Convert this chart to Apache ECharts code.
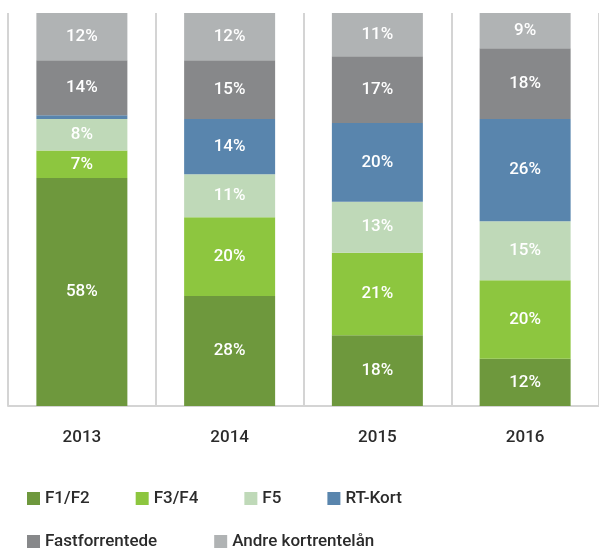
<!DOCTYPE html>
<html>
<head>
<meta charset="utf-8">
<script src="https://cdn.jsdelivr.net/npm/echarts@6/dist/echarts.min.js"></script>
<style>
  html, body { margin: 0; padding: 0; background: #fff; }
  #chart { width: 599px; height: 549px; }
</style>
</head>
<body>
<div id="chart"></div>
<script>
// år
var years = ['2013', '2014', '2015', '2016'];
// andel i prosent per lånetype
var f1f2 = [58, 28, 18, 12];
var f3f4 = [7, 20, 21, 20];
var f5 = [8, 11, 13, 15];
var rtKort = [1, 14, 20, 26];
var fast = [14, 15, 17, 18];
var andre = [12, 12, 11, 9];

var names = ['F1/F2', 'F3/F4', 'F5', 'RT-Kort', 'Fastforrentede', 'Andre kortrentelån'];
var colors = ['#6e983d', '#8dc63f', '#bfd9b8', '#5985ad', '#87888a', '#b0b3b4'];
var values = [f1f2, f3f4, f5, rtKort, fast, andre];

var font = 'Roboto, "Noto Sans", sans-serif';

var series = [];
for (var i = 0; i < names.length; i++) {
  series.push({
    name: names[i],
    type: 'bar',
    stack: 'total',
    barWidth: 91,
    data: values[i],
    itemStyle: { color: colors[i] },
    label: {
      show: true,
      color: '#fff',
      fontSize: 17,
      fontWeight: 500,
      fontFamily: font,
      formatter: function (p) {
        return p.value < 3 ? '' : p.value + '%';
      }
    }
  });
}

var legendText = { fontSize: 17, fontWeight: 500, color: '#2b2b2b', fontFamily: font };

var chart = echarts.init(document.getElementById('chart'));
chart.setOption({
  animation: false,
  grid: { left: 8, width: 592, top: 13, bottom: 143 },
  legend: [{
    data: names.slice(0, 4),
    left: 27,
    top: 490,
    padding: 0,
    icon: 'rect',
    itemWidth: 13,
    itemHeight: 13,
    itemGap: 46,
    textStyle: legendText
  }, {
    data: names.slice(4),
    left: 27,
    top: 533,
    padding: 0,
    icon: 'rect',
    itemWidth: 13,
    itemHeight: 13,
    itemGap: 57,
    textStyle: legendText
  }],
  xAxis: {
    type: 'category',
    data: years,
    axisLine: { lineStyle: { color: '#d4d4d4', width: 2 } },
    axisTick: { show: false },
    splitLine: { show: true, lineStyle: { color: '#d4d4d4', width: 2 } },
    axisLabel: { color: '#2b2b2b', fontSize: 17, fontWeight: 500, fontFamily: font, margin: 23 }
  },
  yAxis: {
    type: 'value',
    min: 0,
    max: 100,
    show: false
  },
  series: series
});
</script>
</body>
</html>
